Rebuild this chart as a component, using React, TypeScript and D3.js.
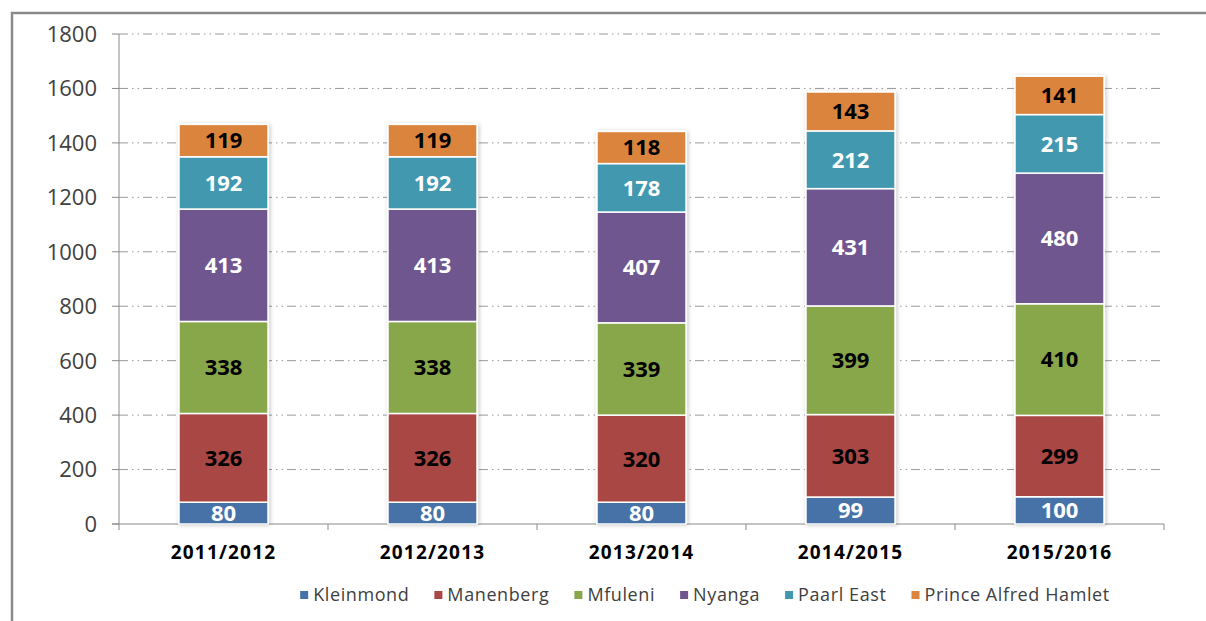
import React from "react";
import * as d3 from "d3";

const categories = ["2011/2012", "2012/2013", "2013/2014", "2014/2015", "2015/2016"];
const seriesNames = ["Kleinmond", "Manenberg", "Mfuleni", "Nyanga", "Paarl East", "Prince Alfred Hamlet"];
const kleinmond = [80, 80, 80, 99, 100];
const manenberg = [326, 326, 320, 303, 299];
const mfuleni = [338, 338, 339, 399, 410];
const nyanga = [413, 413, 407, 431, 480];
const paarlEast = [192, 192, 178, 212, 215];
const princeAlfred = [119, 119, 118, 143, 141];
const yTicks = [0, 200, 400, 600, 800, 1000, 1200, 1400, 1600, 1800];

const seriesValues = [kleinmond, manenberg, mfuleni, nyanga, paarlEast, princeAlfred];
const colors = ["#4672A8", "#A84744", "#88A64A", "#6F568E", "#4198AF", "#DB843D"];
const labelColors = ["#ffffff", "#000000", "#000000", "#ffffff", "#ffffff", "#000000"];

const W = 1206;
const H = 621;
const plotLeft = 119;
const plotRight = 1164;
const plotTop = 34;
const plotBottom = 524;
const FONT = "'Open Sans', 'DejaVu Sans', sans-serif";
const LEGEND_FONT_SIZE = 18;
const LEGEND_SPACING = 0.6;

function measure(text: string, size: number, spacing: number): number {
  try {
    const canvas = document.createElement("canvas");
    const ctx = canvas.getContext("2d");
    if (ctx) {
      ctx.font = `${size}px 'Open Sans', 'DejaVu Sans', sans-serif`;
      return ctx.measureText(text).width + spacing * text.length;
    }
  } catch (e) {}
  return text.length * size * 0.55;
}

export default function App() {
  const x = d3.scaleBand<string>().domain(categories).range([plotLeft, plotRight]).padding(0);
  const y = d3.scaleLinear().domain([0, 1800]).range([plotBottom, plotTop]);
  const barW = x.bandwidth() * 0.426;

  const table = categories.map((c, i) => {
    const row: any = { cat: c };
    seriesNames.forEach((s, k) => (row[s] = seriesValues[k][i]));
    return row;
  });
  const stack = d3.stack<any>().keys(seriesNames)(table);

  // legend layout (centered)
  const legendY = 595;
  const widths = seriesNames.map((s) => 8 + 5 + measure(s, LEGEND_FONT_SIZE, LEGEND_SPACING));
  const gap = 25;
  const total = widths.reduce((a, b) => a + b, 0) + gap * (widths.length - 1);
  let cursor = 299 + (812 - total) / 2;
  const legendItems = seriesNames.map((s, k) => {
    const item = { name: s, x: cursor, color: colors[k] };
    cursor += widths[k] + gap;
    return item;
  });

  return (
    <svg
      width={W}
      height={H}
      style={{ position: "absolute", left: 0, top: 0, background: "#fff" }}
    >
      <defs>
        <filter id="shadow" x="-20%" y="-20%" width="140%" height="140%">
          <feDropShadow dx="1" dy="1" stdDeviation="2" floodColor="#000" floodOpacity="0.25" />
        </filter>
      </defs>
      {/* frame */}
      <path d={`M12,${H} L12,13 L${W},13`} fill="none" stroke="#8a8a8a" strokeWidth={2.5} />

      {/* gridlines */}
      {yTicks.filter((t) => t > 0).map((t) => (
        <line
          key={"g" + t}
          x1={plotLeft}
          x2={plotRight}
          y1={y(t)}
          y2={y(t)}
          stroke="#9a9a9a"
          strokeWidth={1}
          strokeDasharray="9,4,1.5,4,1.5,4"
        />
      ))}

      {/* y axis */}
      <line x1={plotLeft} x2={plotLeft} y1={plotTop} y2={plotBottom + 6} stroke="#8a8a8a" strokeWidth={1} />
      {yTicks.map((t) => (
        <g key={"yt" + t}>
          <line x1={plotLeft - 7} x2={plotLeft} y1={y(t)} y2={y(t)} stroke="#8a8a8a" strokeWidth={1} />
          <text
            x={97}
            y={y(t)}
            dy="0.36em"
            textAnchor="end"
            fontFamily={FONT}
            fontSize={22}
            fill="#404040"
          >
            {t}
          </text>
        </g>
      ))}

      {/* x axis */}
      <line x1={plotLeft - 7} x2={plotRight} y1={plotBottom} y2={plotBottom} stroke="#8a8a8a" strokeWidth={1} />
      {categories.map((c) => (
        <line
          key={"xt" + c}
          x1={(x(c) as number) + x.bandwidth()}
          x2={(x(c) as number) + x.bandwidth()}
          y1={plotBottom}
          y2={plotBottom + 6}
          stroke="#8a8a8a"
          strokeWidth={1}
        />
      ))}
      {categories.map((c) => (
        <text
          key={"xl" + c}
          x={(x(c) as number) + x.bandwidth() / 2}
          y={559}
          textAnchor="middle"
          fontFamily={FONT}
          fontSize={19}
          fontWeight="bold"
          letterSpacing={1.2}
          fill="#000"
        >
          {c}
        </text>
      ))}

      {/* bars */}
      {categories.map((c, i) => {
        const cx = (x(c) as number) + x.bandwidth() / 2;
        const top = y(stack[stack.length - 1][i][1]);
        return (
          <rect
            key={"sh" + c}
            x={cx - barW / 2 - 1}
            y={top - 1}
            width={barW + 2}
            height={plotBottom - top + 1}
            fill="#fff"
            filter="url(#shadow)"
          />
        );
      })}
      {stack.map((layer, k) => (
        <g key={"layer" + k}>
          {layer.map((d, i) => {
            const c = categories[i];
            const cx = (x(c) as number) + x.bandwidth() / 2;
            const y0 = y(d[0]);
            const y1 = y(d[1]);
            return (
              <g key={k + "-" + i}>
                <rect
                  x={cx - barW / 2}
                  y={y1}
                  width={barW}
                  height={y0 - y1}
                  fill={colors[k]}
                  stroke="#fff"
                  strokeWidth={1.5}
                />
                <text
                  x={cx}
                  y={(y0 + y1) / 2}
                  dy="0.36em"
                  textAnchor="middle"
                  fontFamily={FONT}
                  fontSize={22}
                  fontWeight="bold"
                  fill={labelColors[k]}
                >
                  {seriesValues[k][i]}
                </text>
              </g>
            );
          })}
        </g>
      ))}

      {/* legend */}
      {legendItems.map((it) => (
        <g key={"lg" + it.name}>
          <rect x={it.x} y={legendY - 4} width={8} height={8} fill={it.color} />
          <text
            x={it.x + 13}
            y={legendY}
            dy="0.36em"
            fontFamily={FONT}
            fontSize={LEGEND_FONT_SIZE}
            letterSpacing={LEGEND_SPACING}
            fill="#404040"
          >
            {it.name}
          </text>
        </g>
      ))}
    </svg>
  );
}
